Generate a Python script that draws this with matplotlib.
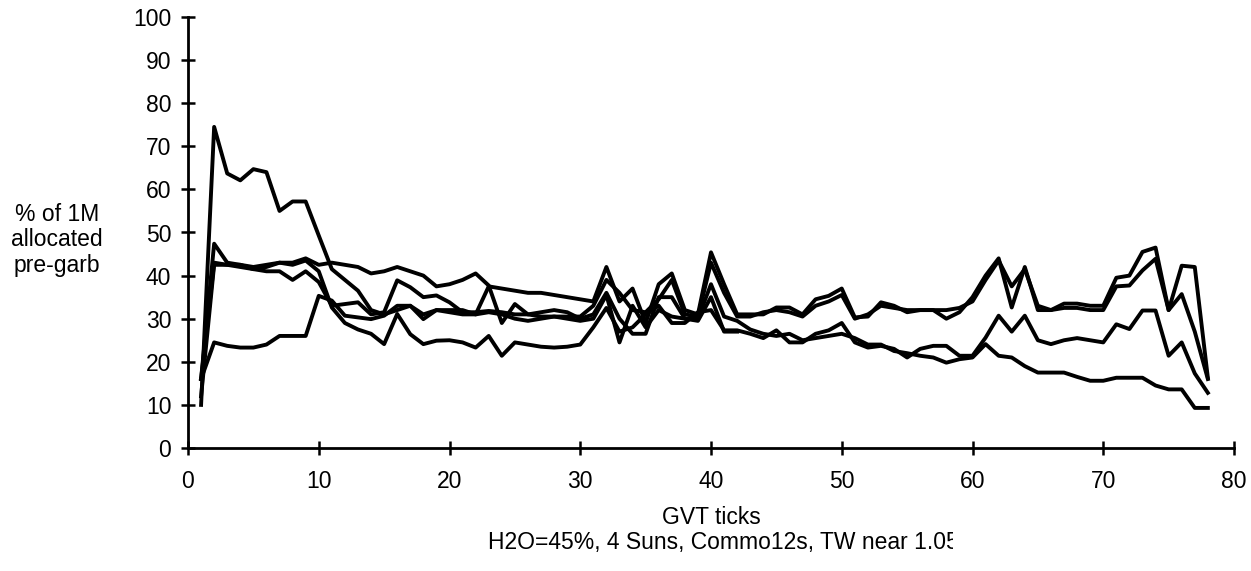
import matplotlib
matplotlib.use("Agg")
import matplotlib.pyplot as plt
from matplotlib.transforms import Bbox, TransformedBbox

plt.rc("font", family="Liberation Sans", size=16.5)

# GVT tick number for every sample
ticks = list(range(1, 79))

# % of 1M allocated pre-garb, one list per run
run_a = [10, 74.5, 63.7, 62.1, 64.7, 64, 55, 57.2, 57.2, 49.3,
         41.5, 39, 36.5, 32, 31, 32, 33, 31, 32, 32,
         32, 31, 37.5, 37, 36.5, 36, 36, 35.5, 35, 34.5,
         34, 42, 34, 37, 29, 38, 40.5, 32, 31, 45.4,
         38, 31, 31, 31, 32.6, 32.6, 31, 34.5, 35.3, 37,
         30.3, 30.5, 33.8, 33, 31.5, 32, 32, 30, 31.5, 35,
         40, 44, 32.6, 42, 32, 32, 33.5, 33.5, 33, 33,
         39.5, 40, 45.5, 46.5, 32, 42.3, 42, 16.3]
run_b = [16, 47.4, 43, 42.5, 41.5, 42, 43, 42.5, 43.5, 41,
         32.6, 29, 27.5, 26.5, 24.1, 31.1, 26.4, 24.1, 24.9, 25,
         24.5, 23.3, 26, 21.4, 24.5, 24, 23.5, 23.3, 23.5, 24,
         28, 32.5, 27, 28, 31, 33, 29, 29, 31.5, 32,
         27.3, 27.3, 26.5, 25.5, 27.3, 24.5, 24.5, 26.5, 27.3, 29,
         24.5, 23.3, 23.7, 23, 21, 23, 23.7, 23.7, 21.4, 21.4,
         25.6, 30.7, 27, 30.7, 25, 24.1, 25, 25.5, 25, 24.5,
         28.7, 27.6, 31.9, 31.9, 21.4, 24.5, 17.3, 12.8]
run_c = [16, 43, 42.5, 42.5, 42, 42.5, 43, 43, 44, 42.5,
         43, 42.5, 42, 40.5, 41, 42, 41, 40, 37.5, 38,
         39, 40.5, 37.7, 29, 33.4, 31, 30.5, 30.5, 30.5, 30.5,
         33, 39, 36, 32, 31.5, 34.5, 39, 31, 30.5, 43,
         36, 30.5, 30.5, 31.5, 32, 31.5, 30.5, 33, 34, 35.5,
         30, 31, 33, 32.5, 32, 32, 32, 32, 32.5, 34,
         39, 43.5, 37.5, 41.5, 33, 32, 32.5, 32.5, 32, 32,
         37.5, 37.7, 41.2, 43.9, 32, 35.7, 27, 16]
run_d = [12, 42.5, 42.5, 42, 41.5, 41, 41, 39, 41, 38.5,
         33, 33.4, 33.8, 31, 31.5, 38.9, 37.3, 35, 35.4, 33.8,
         31.5, 31.5, 31.8, 31.5, 31, 31, 31.5, 32, 31.5, 30,
         31, 36, 30, 26.5, 26.5, 35, 35, 30, 30, 38,
         30.5, 29.5, 27.5, 26.5, 26, 26.5, 25, 25.5, 26, 26.5,
         25.5, 24, 24, 22.5, 22, 21.4, 21, 19.8, 20.6, 21,
         24.1, 21.4, 21, 19, 17.5, 17.5, 17.5, 16.5, 15.6, 15.6,
         16.3, 16.3, 16.3, 14.5, 13.6, 13.6, 9.3, 9.3]
# this one disappears into the others after tick 42
run_e = [16, 24.5, 23.7, 23.3, 23.3, 24, 26, 26, 26, 35.3,
         34.2, 30.7, 30.3, 29.9, 30.7, 33, 33, 29.9, 32, 31.5,
         31, 31, 31.5, 31, 30, 29.5, 30, 30.5, 30, 29.5,
         30, 35.5, 24.5, 33, 28, 32, 30.5, 30, 29.5, 35,
         27, 27]

caption = "H2O=45%, 4 Suns, Commo12s, TW near 1.05"

W, H = 1251, 571
fig = plt.figure(figsize=(W / 100, H / 100), dpi=100)
ax = fig.add_axes([188 / W, 1 - 448 / H, (1234 - 188) / W, (448 - 17) / H])

for run in [run_a, run_b, run_c, run_d, run_e]:
    ax.plot(ticks[:len(run)], run, color="black", lw=2.8, clip_on=False)

ax.set_xlim(0, 80)
ax.set_ylim(0, 100)
ax.set_xticks(range(0, 81, 10))
ax.set_yticks(range(0, 101, 10))
ax.spines["top"].set_visible(False)
ax.spines["right"].set_visible(False)
ax.spines["left"].set_linewidth(2)
ax.spines["bottom"].set_linewidth(2)
ax.tick_params(axis="both", direction="inout", length=10, width=1.8, colors="black")
ax.tick_params(axis="x", pad=11)
ax.tick_params(axis="y", pad=7)

fig.text(57 / W, 1 - 240 / H, "% of 1M\nallocated\npre-garb", ha="center", va="center",
         linespacing=1.15)
fig.text(711 / W, 1 - 517 / H, "GVT ticks", ha="center", va="center")

# the caption is cut off on the right in the original, half way into the last "5"
r = fig.canvas.get_renderer()
probe = fig.text(0, 0, caption[:-1])
head_w = probe.get_window_extent(r).width
probe.remove()
x0 = 946 - head_w
cap = fig.text(x0 / W, 1 - 542 / H, caption, ha="left", va="center")
cap.set_clip_box(TransformedBbox(Bbox([[0, 0], [953 / W, 1]]), fig.transFigure))
cap.set_clip_on(True)

fig.savefig("out.png", dpi=100)
